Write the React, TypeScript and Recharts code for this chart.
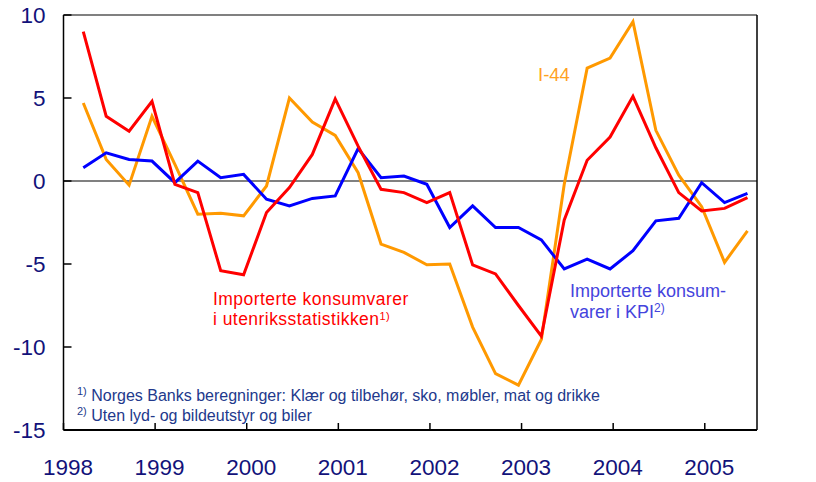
import React from 'react';
import { LineChart, Line, XAxis, YAxis, ReferenceLine } from 'recharts';

// quarterly observations, 1998K1 - 2005K2
const quarters: string[] = [
  '1998K1', '1998K2', '1998K3', '1998K4',
  '1999K1', '1999K2', '1999K3', '1999K4',
  '2000K1', '2000K2', '2000K3', '2000K4',
  '2001K1', '2001K2', '2001K3', '2001K4',
  '2002K1', '2002K2', '2002K3', '2002K4',
  '2003K1', '2003K2', '2003K3', '2003K4',
  '2004K1', '2004K2', '2004K3', '2004K4',
  '2005K1', '2005K2',
];

// Importerte konsumvarer i utenriksstatistikken
const utenriks: number[] = [
  9.0, 3.9, 3.0, 4.8, -0.2, -0.7, -5.4, -5.65,
  -1.9, -0.4, 1.6, 4.95, 2.1, -0.5, -0.7, -1.3,
  -0.7, -5.05, -5.6, -7.5, -9.35, -2.35, 1.25, 2.65,
  5.1, 2.0, -0.7, -1.8, -1.65, -1.0,
];

// Importerte konsumvarer i KPI
const kpi: number[] = [
  0.8, 1.7, 1.3, 1.2, -0.1, 1.2, 0.2, 0.4,
  -1.1, -1.5, -1.05, -0.9, 1.95, 0.2, 0.3, -0.2,
  -2.8, -1.5, -2.8, -2.8, -3.55, -5.3, -4.7, -5.3,
  -4.2, -2.4, -2.25, -0.1, -1.3, -0.75,
];

// I-44
const i44: number[] = [
  4.7, 1.3, -0.25, 3.9, 1.0, -2.0, -1.95, -2.1,
  -0.3, 5.0, 3.55, 2.75, 0.5, -3.8, -4.3, -5.05,
  -5.0, -8.8, -11.6, -12.3, -9.55, -0.2, 6.8, 7.4,
  9.6, 3.05, 0.35, -1.55, -4.9, -3.0,
];

const yearTicks: number[] = [1998, 1999, 2000, 2001, 2002, 2003, 2004, 2005];
const valueTicks: number[] = [-15, -10, -5, 0, 5, 10];

const QUARTER_OFFSET = 0.216;

const data = quarters.map((q, i) => ({
  quarter: q,
  x: Number(q.slice(0, 4)) + (Number(q.slice(5)) - 1) / 4 + QUARTER_OFFSET,
  utenriks: utenriks[i],
  kpi: kpi[i],
  i44: i44[i],
}));

const FONT = '"Liberation Sans", Arial, Helvetica, sans-serif';
const NAVY = '#12127a';

const LeftTick = (props: any) => {
  const { x, y, payload } = props;
  return (
    <g>
      <line x1={x} x2={x + 8} y1={y} y2={y} stroke="#000" strokeWidth={1.5} />
      <text x={x - 18} y={y} dy="0.36em" textAnchor="end" fill={NAVY} fontSize={22.5} fontFamily={FONT}>
        {payload.value}
      </text>
    </g>
  );
};

const RightTick = (props: any) => {
  const { x, y, payload } = props;
  return (
    <g>
      <line x1={x - 7} x2={x} y1={y} y2={y} stroke="#000" strokeWidth={1.5} />
      <text x={x + 20} y={y} dy="0.36em" textAnchor="start" fill={NAVY} fontSize={22.5} fontFamily={FONT}>
        {payload.value}
      </text>
    </g>
  );
};

const BottomTick = (props: any) => {
  const { x, y, payload } = props;
  return (
    <g>
      <line x1={x} x2={x} y1={y} y2={y - 7} stroke="#000" strokeWidth={1.5} />
      <text x={x + 4.5} y={y + 45} textAnchor="middle" fill={NAVY} fontSize={22.5} fontFamily={FONT}>
        {payload.value}
      </text>
    </g>
  );
};

export default function App() {
  return (
    <div style={{ position: 'absolute', left: 0, top: 0, width: 816, height: 482, background: '#fff' }}>
      <LineChart width={816} height={482} data={data} margin={{ top: 15, right: 0, bottom: 0, left: 0 }}>
        <XAxis
          dataKey="x"
          type="number"
          domain={[1998, 2005.57]}
          ticks={yearTicks}
          allowDataOverflow
          height={52}
          tickSize={0}
          tickMargin={0}
          tickLine={false}
          tick={<BottomTick />}
          axisLine={{ stroke: '#000', strokeWidth: 2 }}
        />
        <YAxis
          yAxisId="left"
          orientation="left"
          domain={[-15, 10]}
          ticks={valueTicks}
          width={63.5}
          tickSize={0}
          tickMargin={0}
          tickLine={false}
          tick={<LeftTick />}
          axisLine={{ stroke: '#000', strokeWidth: 1.5 }}
        />
        <YAxis
          yAxisId="right"
          orientation="right"
          domain={[-15, 10]}
          ticks={valueTicks}
          width={59}
          tickSize={0}
          tickMargin={0}
          tickLine={false}
          tick={<RightTick />}
          axisLine={{ stroke: '#000', strokeWidth: 1.5 }}
        />
        <ReferenceLine yAxisId="left" y={10} stroke="#808080" strokeWidth={2} />
        <ReferenceLine yAxisId="left" y={0} stroke="#808080" strokeWidth={2} />
        <Line yAxisId="left" dataKey="i44" stroke="#ff9900" strokeWidth={3} dot={false} isAnimationActive={false} />
        <Line yAxisId="left" dataKey="kpi" stroke="#0000ff" strokeWidth={3} dot={false} isAnimationActive={false} />
        <Line yAxisId="left" dataKey="utenriks" stroke="#ff0000" strokeWidth={3} dot={false} isAnimationActive={false} />
      </LineChart>
      <svg
        width={816}
        height={482}
        style={{ position: 'absolute', left: 0, top: 0, pointerEvents: 'none' }}
        fontFamily={FONT}
      >
        <text x={538} y={80.7} fill="#ffa21f" fontSize={18.5}>I-44</text>
        <text x={213} y={305} fill="#ff0000" fontSize={17.5} letterSpacing={0.45}>Importerte konsumvarer</text>
        <text x={213} y={325} fill="#ff0000" fontSize={17.5} letterSpacing={0.45}>
          i utenriksstatistikken
          <tspan fontSize={11} dy={-5}>1)</tspan>
        </text>
        <text x={570} y={296.5} fill="#4444dd" fontSize={18}>Importerte konsum-</text>
        <text x={570} y={317.5} fill="#4444dd" fontSize={18}>
          varer i KPI
          <tspan fontSize={12} dy={-6}>2)</tspan>
        </text>
        <text x={77} y={401} fill="#22398c" fontSize={16}>
          <tspan fontSize={11} dy={-6}>1)</tspan>
          <tspan dy={6}> Norges Banks beregninger: Klær og tilbehør, sko, møbler, mat og drikke</tspan>
        </text>
        <text x={77} y={421} fill="#22398c" fontSize={16}>
          <tspan fontSize={11} dy={-6}>2)</tspan>
          <tspan dy={6}> Uten lyd- og bildeutstyr og biler</tspan>
        </text>
      </svg>
    </div>
  );
}
